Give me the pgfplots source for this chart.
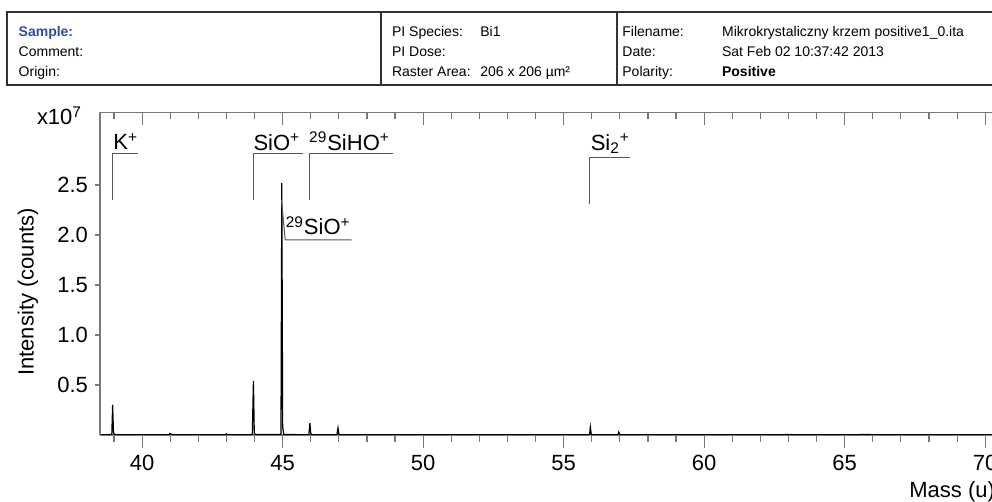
\documentclass[border=0pt]{standalone}
\usepackage{fontspec}
\setmainfont{Liberation Sans}
\usepackage{pgfplots}
\pgfplotsset{compat=1.18}
\definecolor{axgray}{RGB}{120,120,120}
\definecolor{lblgray}{RGB}{85,85,85}
\definecolor{sampleblue}{RGB}{45,75,165}
\definecolor{hdrline}{RGB}{50,50,50}

\newcommand{\hdr}{\fontsize{7}{8.4}\selectfont}
\newcommand{\chart}{\fontsize{11}{13.2}\selectfont}

% shared frame of the spectrum axes (1px = 0.5pt)
\pgfplotsset{spec/.style={
    scale only axis, width=470.7pt, height=161.25pt,
    at={(50pt,33.5pt)}, anchor=south west,
    xmin=38.5, xmax=72, ymin=0, ymax=3.225,
    axis line style={axgray, line width=0.8pt},
    tick style={axgray, line width=0.6pt},
    ticklabel style={font=\chart},
    /pgf/number format/assume math mode=true,
}}

\begin{document}
\begin{tikzpicture}
\useasboundingbox (0,0) rectangle (496pt,251pt);
\clip (0,0) rectangle (496pt,251pt);

% info header
\draw[hdrline, line width=1pt] (3.5pt,208.5pt) rectangle (520pt,245pt);
\draw[hdrline, line width=0.8pt] (190.35pt,208.5pt) -- (190.35pt,245pt);
\draw[hdrline, line width=0.8pt] (308.35pt,208.5pt) -- (308.35pt,245pt);
\begin{scope}[every node/.style={anchor=base west, inner sep=0pt}]
  \node[font=\hdr\bfseries, text=sampleblue] at (9.15pt,232.5pt) {Sample:};
  \node[font=\hdr] at (9.15pt,222.5pt) {Comment:};
  \node[font=\hdr] at (9.15pt,212.5pt) {Origin:};
  \node[font=\hdr] at (195.85pt,232.5pt) {PI Species:};
  \node[font=\hdr] at (240pt,232.5pt) {Bi1};
  \node[font=\hdr] at (195.85pt,222.5pt) {PI Dose:};
  \node[font=\hdr] at (195.85pt,212.5pt) {Raster Area:};
  \node[font=\hdr] at (240pt,212.5pt) {206 x 206 µm²};
  \node[font=\hdr] at (311pt,232.5pt) {Filename:};
  \node[font=\hdr] at (360.85pt,232.5pt) {Mikrokrystaliczny krzem positive1\_0.ita};
  \node[font=\hdr] at (311pt,222.5pt) {Date:};
  \node[font=\hdr] at (360.85pt,222.5pt) {Sat Feb 02 10:37:42 2013};
  \node[font=\hdr] at (311pt,212.5pt) {Polarity:};
  \node[font=\hdr\bfseries] at (360.85pt,212.5pt) {Positive};
\end{scope}

% spectrum with bottom ticks
\begin{axis}[spec,
    axis x line*=bottom, axis y line*=left,
    ytick=\empty,
    xtick={40,45,...,70}, minor xtick={39,...,71},
    tick align=outside, major tick length=6.5pt, minor tick length=3.5pt,
]
\addplot[black, line width=0.6pt] coordinates {
    (38.5,0.002) (38.92,0.002) (38.95,0.30) (38.98,0.02) (39.02,0.006) (39.1,0.002)
    (40.96,0.002) (40.98,0.014) (41.01,0.012) (41.04,0.008) (41.07,0.002)
    (42.97,0.002) (43.0,0.012) (43.03,0.002)
    (43.92,0.002) (43.96,0.54) (43.99,0.02) (44.03,0.004)
    (44.6,0.004) (44.9,0.004) (44.94,0.01) (44.97,2.52) (45.0,0.08) (45.04,0.006)
    (45.93,0.002) (45.97,0.12) (46.0,0.015) (46.04,0.002)
    (46.93,0.002) (46.97,0.07) (47.0,0.01) (47.04,0.002)
    (50.9,0.002) (51.0,0.004) (51.2,0.002)
    (54.9,0.002) (54.96,0.005) (55.0,0.002)
    (55.92,0.002) (55.95,0.08) (55.98,0.01) (56.02,0.002)
    (56.93,0.002) (56.96,0.03) (57.0,0.004) (57.05,0.002)
    (57.95,0.004) (58.1,0.002)
    (63.0,0.004) (63.1,0.002)
    (65.6,0.004) (65.9,0.004) (66.0,0.002)
    (72,0.002)
};
% peak labels
\draw[lblgray, line width=0.5pt] (axis cs:38.96,2.35) |- (axis cs:39.85,2.817);
\draw[lblgray, line width=0.5pt] (axis cs:43.96,2.35) |- (axis cs:45.72,2.817);
\draw[lblgray, line width=0.5pt] (axis cs:45.97,2.35) |- (axis cs:48.92,2.817);
\draw[lblgray, line width=0.5pt] (axis cs:55.93,2.31) |- (axis cs:57.35,2.776);
\draw[lblgray, line width=0.5pt] (axis cs:44.96,2.35) -- (axis cs:45.09,1.95) -- (axis cs:47.45,1.95);
\begin{scope}[every node/.style={anchor=base west, inner sep=0pt, font=\chart}]
  \node at (axis cs:38.96,2.85) {K\textsuperscript{+}};
  \node at (axis cs:43.95,2.843) {SiO\textsuperscript{+}};
  \node at (axis cs:45.93,2.843) {\textsuperscript{29}SiHO\textsuperscript{+}};
  \node at (axis cs:55.95,2.845) {Si\textsubscript{2}\textsuperscript{+}};
  \node at (axis cs:45.1,2.0) {\textsuperscript{29}SiO\textsuperscript{+}};
\end{scope}
\end{axis}

% top ticks, pointing into the plot
\begin{axis}[spec,
    axis x line*=top, axis y line=none,
    xtick={40,45,...,70}, minor xtick={39,...,71}, xticklabels={},
    tick align=inside, major tick length=6.5pt, minor tick length=3.5pt,
]
\end{axis}

% y ticks
\begin{axis}[spec,
    axis y line*=left, axis x line=none,
    ytick={0.5,1,1.5,2,2.5}, yticklabels={0.5,1.0,1.5,2.0,2.5},
    tick align=outside, major tick length=2.5pt,
]
\end{axis}

\node[anchor=base west, inner sep=0pt, font=\chart] at (18.3pt,188.5pt) {x10\textsuperscript{7}};
\node[rotate=90, inner sep=0pt, font=\chart] at (14pt,105pt) {Intensity (counts)};
\node[anchor=base west, inner sep=0pt, font=\chart] at (454.5pt,2pt) {Mass (u)};
\end{tikzpicture}
\end{document}
